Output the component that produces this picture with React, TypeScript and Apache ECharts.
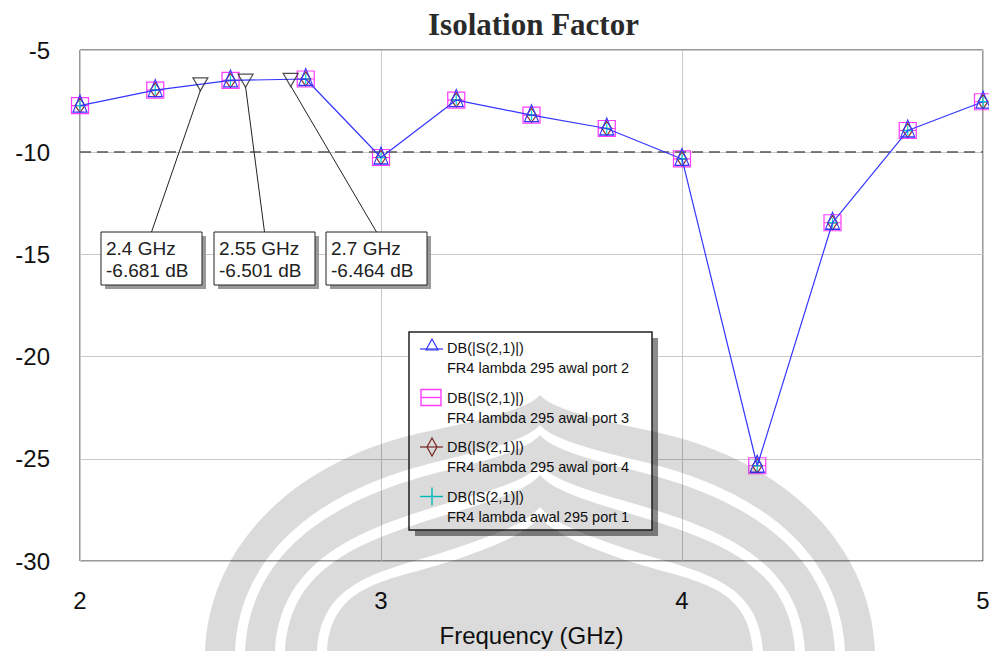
import React, { useEffect, useRef } from "react";
import * as echarts from "echarts";

// ---------- data ----------
const freqGHz = [2, 2.25, 2.5, 2.75, 3, 3.25, 3.5, 3.75, 4, 4.25, 4.5, 4.75, 5];
const s21Port2 = [-7.72, -6.96, -6.49, -6.42, -10.26, -7.45, -8.19, -8.84, -10.33, -25.34, -13.45, -8.94, -7.53];
const s21Port3 = [-7.72, -6.96, -6.49, -6.42, -10.26, -7.45, -8.19, -8.84, -10.33, -25.34, -13.45, -8.94, -7.53];
const s21Port4 = [-7.72, -6.96, -6.49, -6.42, -10.26, -7.45, -8.19, -8.84, -10.33, -25.34, -13.45, -8.94, -7.53];
const s21Port1 = [-7.72, -6.96, -6.49, -6.42, -10.26, -7.45, -8.19, -8.84, -10.33, -25.34, -13.45, -8.94, -7.53];
const markerFreqs = [2.4, 2.55, 2.7];
const markerValues = [-6.681, -6.501, -6.464];
const thresholdDb = -10;
const xMin = 2, xMax = 5, xStep = 1;
const yMin = -30, yMax = -5, yStep = 5;
const titleText = "Isolation Factor";
const xAxisName = "Frequency (GHz)";
const legendTitle = "DB(|S(2,1)|)";
const legendNames = [
  "FR4 lambda 295 awal port 2",
  "FR4 lambda 295 awal port 3",
  "FR4 lambda 295 awal port 4",
  "FR4 lambda awal 295 port 1",
];

// ---------- styles ----------
const BLUE = "#3535ff";
const MAGENTA = "#ff3cff";
const DARKRED = "#8b2a2a";
const CYAN = "#00d6d6";
const SANS = "'Liberation Sans', Arial, sans-serif";

// ---------- watermark (faint logo) ----------
const CX = 540;
function pts(d: number) {
  return {
    P0: [205 + d, 651], C1: [210 + d, 540 + 0.3 * d], C2: [300 + 0.8 * d, 460 + d], P1: [420 + 0.4 * d, 433 + d],
    C3: [480 + 0.2 * d, 420 + d], C4: [527, 410 + d], P2: [CX, 395 + d],
  } as Record<string, number[]>;
}
const mir = (p: number[]) => `${2 * CX - p[0]},${p[1]}`;
const pp = (p: number[]) => `${p[0]},${p[1]}`;
function forward(d: number) {
  const q = pts(d);
  return `M${pp(q.P0)} C${pp(q.C1)} ${pp(q.C2)} ${pp(q.P1)} C${pp(q.C3)} ${pp(q.C4)} ${pp(q.P2)} C${mir(q.C4)} ${mir(q.C3)} ${mir(q.P1)} C${mir(q.C2)} ${mir(q.C1)} ${mir(q.P0)}`;
}
function reverse(d: number) {
  const q = pts(d);
  return `L${mir(q.P0)} C${mir(q.C1)} ${mir(q.C2)} ${mir(q.P1)} C${mir(q.C3)} ${mir(q.C4)} ${pp(q.P2)} C${pp(q.C4)} ${pp(q.C3)} ${pp(q.P1)} C${pp(q.C2)} ${pp(q.C1)} ${pp(q.P0)}`;
}
const bands: number[][] = [[0, 30], [40, 70], [80, 112], [122, 400]];
const wmNames: string[] = [];
bands.forEach((b, i) => {
  const name = "wmBand" + i;
  let d: string;
  if (b[1] >= 400) d = forward(b[0]) + " Z";
  else d = forward(b[0]) + " " + reverse(b[1]) + " Z";
  try {
    echarts.graphic.registerShape(name, echarts.graphic.extendPath(d, {}) as any);
    wmNames.push(name);
  } catch (e) {
    /* ignore */
  }
});

function buildGraphics(chart: echarts.ECharts) {
  const g: any[] = [];
  // callouts
  const boxX = [101, 214, 326];
  const boxY = 232, boxW = 101, boxH = 53;
  markerFreqs.forEach((f, i) => {
    const p = chart.convertToPixel({ gridIndex: 0 }, [f, markerValues[i]]) as number[];
    g.push({ type: "line", z: 20, silent: true, shape: { x1: p[0], y1: p[1] + 6, x2: boxX[i] + boxW / 2, y2: boxY }, style: { stroke: "#222", lineWidth: 1 } });
    g.push({ type: "rect", z: 20, silent: true, shape: { x: boxX[i] + 4, y: boxY + 4, width: boxW, height: boxH }, style: { fill: "#9a9a9a" } });
    g.push({ type: "rect", z: 21, silent: true, shape: { x: boxX[i], y: boxY, width: boxW, height: boxH }, style: { fill: "#fff", stroke: "#222", lineWidth: 1 } });
    g.push({
      type: "text", z: 22, silent: true, x: boxX[i] + 5, y: boxY + boxH / 2 + 1,
      style: { text: `${f} GHz\n${markerValues[i].toFixed(3)} dB`, fill: "#222", fontSize: 19, fontFamily: SANS, lineHeight: 22, align: "left", verticalAlign: "middle" },
    });
  });
  // legend
  const lx = 409, ly = 332, lw = 243, lh = 198;
  g.push({ type: "rect", z: 30, silent: true, shape: { x: lx + 6, y: ly + 6, width: lw, height: lh }, style: { fill: "#8c8c8c" } });
  g.push({ type: "rect", z: 31, silent: true, shape: { x: lx, y: ly, width: lw, height: lh }, style: { fill: "#fff", stroke: "#222", lineWidth: 1.5 } });
  legendNames.forEach((nm, i) => {
    const by = 348 + i * 49.5;
    const cx = 432;
    g.push({ type: "text", z: 32, silent: true, x: 447, y: by, style: { text: legendTitle, fill: "#111", fontSize: 14.5, fontFamily: SANS, align: "left", verticalAlign: "middle" } });
    g.push({ type: "text", z: 32, silent: true, x: 447, y: by + 20, style: { text: nm, fill: "#111", fontSize: 14.5, fontFamily: SANS, align: "left", verticalAlign: "middle" } });
    if (i === 0) {
      g.push({ type: "line", z: 32, silent: true, shape: { x1: 420, y1: by + 1, x2: 443, y2: by + 1 }, style: { stroke: BLUE, lineWidth: 1.2 } });
      g.push({ type: "polygon", z: 32, silent: true, shape: { points: [[cx, by - 9], [cx + 6, by + 2], [cx - 6, by + 2]] }, style: { fill: "none", stroke: BLUE, lineWidth: 1.2 } });
    } else if (i === 1) {
      g.push({ type: "rect", z: 32, silent: true, shape: { x: 421, y: by - 8, width: 20, height: 16 }, style: { fill: "none", stroke: MAGENTA, lineWidth: 1.4 } });
      g.push({ type: "line", z: 32, silent: true, shape: { x1: 421, y1: by, x2: 441, y2: by }, style: { stroke: MAGENTA, lineWidth: 1.4 } });
    } else if (i === 2) {
      g.push({ type: "line", z: 32, silent: true, shape: { x1: 420, y1: by, x2: 443, y2: by }, style: { stroke: DARKRED, lineWidth: 1.2 } });
      g.push({ type: "polygon", z: 32, silent: true, shape: { points: [[cx, by - 9], [cx + 5, by], [cx, by + 9], [cx - 5, by]] }, style: { fill: "none", stroke: DARKRED, lineWidth: 1.2 } });
    } else {
      g.push({ type: "line", z: 32, silent: true, shape: { x1: 420, y1: by, x2: 443, y2: by }, style: { stroke: CYAN, lineWidth: 1.4 } });
      g.push({ type: "line", z: 32, silent: true, shape: { x1: cx, y1: by - 9, x2: cx, y2: by + 9 }, style: { stroke: CYAN, lineWidth: 1.4 } });
    }
  });
  // watermark overlay
  wmNames.forEach((nm) => {
    g.push({ type: nm, x: 0, y: 0, z: 100, silent: true, style: { fill: "rgba(0,0,0,0.14)" } });
  });
  return g;
}

function lineSeries(name: string, values: number[], symbol: string, size: any, color: string, showLine: boolean, z: number, offset?: number[]) {
  return {
    type: "line",
    name,
    z,
    silent: true,
    data: freqGHz.map((f, i) => [f, values[i]]),
    symbol,
    symbolSize: size,
    symbolOffset: offset || [0, 0],
    showSymbol: true,
    clip: false,
    lineStyle: { color, width: 1.2, opacity: showLine ? 1 : 0 },
    itemStyle: { color: "none", borderColor: color, borderWidth: 1.2 },
    emphasis: { disabled: true },
  };
}

export default function App() {
  const ref = useRef<HTMLDivElement>(null);
  useEffect(() => {
    const el = ref.current!;
    const chart = echarts.init(el, null, { renderer: "svg" });
    const option: any = {
      animation: false,
      backgroundColor: "#fff",
      title: {
        text: titleText,
        left: 423,
        top: 4,
        textStyle: { fontFamily: "'Liberation Serif', 'Times New Roman', serif", fontWeight: "bold", fontSize: 31, color: "#2a2a2a" },
      },
      grid: { left: 80, right: 6, top: 50, bottom: 90, show: true, borderColor: "#333", borderWidth: 1, backgroundColor: "transparent", outerBoundsMode: "none", containLabel: false },
      xAxis: {
        type: "value", min: xMin, max: xMax, interval: xStep,
        axisLine: { show: false }, axisTick: { show: false },
        axisLabel: { fontSize: 24, color: "#111", fontFamily: SANS, margin: 27 },
        splitLine: { show: true, lineStyle: { color: "#c8c8c8", width: 1 } },
        name: xAxisName, nameLocation: "middle", nameGap: 62,
        nameTextStyle: { fontSize: 24, color: "#111", fontFamily: SANS },
      },
      yAxis: {
        type: "value", min: yMin, max: yMax, interval: yStep,
        axisLine: { show: false }, axisTick: { show: false },
        axisLabel: { fontSize: 24, color: "#111", fontFamily: SANS, margin: 30 },
        splitLine: { show: true, lineStyle: { color: "#c8c8c8", width: 1 } },
      },
      series: [
        {
          type: "line", data: [], silent: true, z: 1,
          markLine: {
            silent: true, symbol: "none", animation: false,
            label: { show: false },
            lineStyle: { color: "#555", width: 1.5, type: [11, 6] },
            data: [{ yAxis: thresholdDb }],
          },
        },
        lineSeries("port3", s21Port3, "path://M0,0L16,0L16,16L0,16Z M0,8L16,8", [17, 16], MAGENTA, false, 3),
        lineSeries("port4", s21Port4, "path://M5,0L10,8L5,16L0,8Z M0,8L10,8", [10, 14], DARKRED, false, 4),
        lineSeries("port1", s21Port1, "path://M5,0L5,10M0,5L10,5", [10, 10], CYAN, false, 5),
        lineSeries("port2", s21Port2, "triangle", [14, 17], BLUE, true, 6, [0, -2]),
        {
          type: "scatter", silent: true, z: 8,
          data: markerFreqs.map((f, i) => [f, markerValues[i]]),
          symbol: "triangle", symbolRotate: 180, symbolSize: [15, 13],
          itemStyle: { color: "rgba(255,255,255,0)", borderColor: "#222", borderWidth: 1.2 },
        },
      ],
    };
    chart.setOption(option);
    chart.setOption({ graphic: buildGraphics(chart) });
    return () => chart.dispose();
  }, []);
  return <div ref={ref} style={{ position: "absolute", left: 0, top: 0, width: 989, height: 651, background: "#fff" }} />;
}
